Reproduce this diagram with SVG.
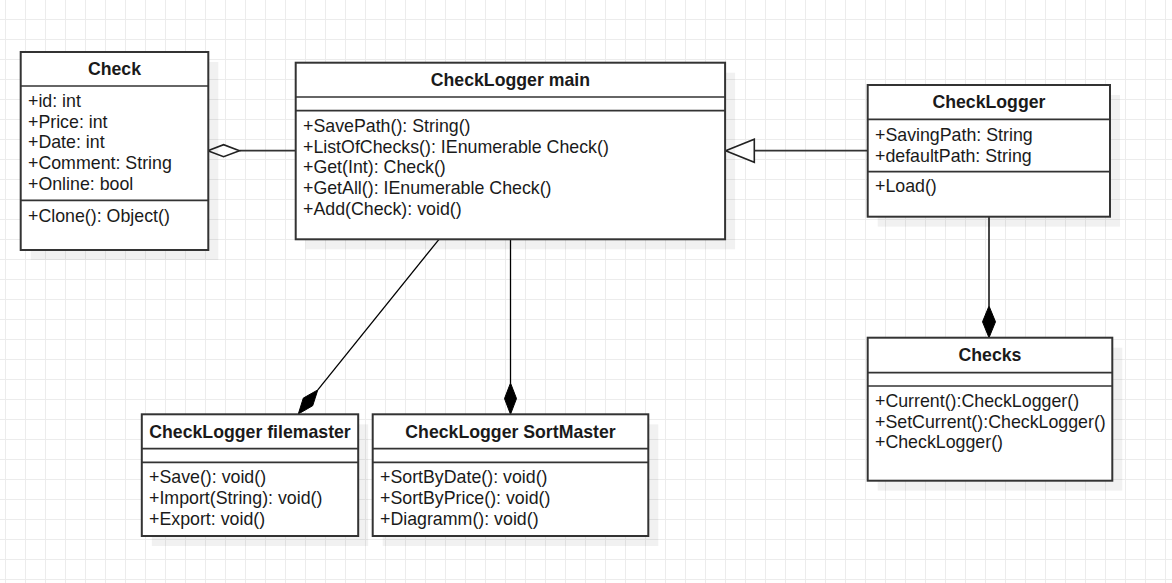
<svg xmlns="http://www.w3.org/2000/svg" width="1172" height="583" viewBox="0 0 1172 583">
  <defs>
    <pattern id="grid" x="5" y="19" width="20" height="20" patternUnits="userSpaceOnUse">
      <path d="M0.5 0 V20 M0 0.5 H20" fill="none" stroke="#ececec" stroke-width="1"/>
    </pattern>
    <style>
      .box { fill: #ffffff; stroke: #333333; stroke-width: 2; }
      .shadow { fill: #000000; opacity: 0.055; }
      .sep { stroke: #333333; stroke-width: 1.7; }
      .title { font-family: "Liberation Sans", Arial, sans-serif; font-size: 17.7px; font-weight: bold; fill: #1a1a1a; text-anchor: middle; }
      .item { font-family: "Liberation Sans", Arial, sans-serif; font-size: 17.8px; fill: #1a1a1a; }
      .conn { fill: none; stroke: #333333; stroke-width: 1.8; }
      .thin { fill: none; stroke: #000000; stroke-width: 1.3; }
      .hollow { fill: #ffffff; stroke: #222222; stroke-width: 1.6; }
      .filled { fill: #000000; stroke: #000000; stroke-width: 1; }
    </style>
  </defs>
  <rect x="0" y="0" width="1172" height="583" fill="#ffffff"/>
  <rect x="0" y="0" width="1172" height="583" fill="url(#grid)"/>

  <g id="connectors">
    <!-- Check <>— main (aggregation) -->
    <line class="conn" x1="239.5" y1="150.7" x2="295.7" y2="150.7"/>
    <polygon class="hollow" points="207.8,150.7 223.6,144.7 239.5,150.7 223.6,156.7"/>
    <!-- CheckLogger —|> main (generalization) -->
    <line class="conn" x1="754.3" y1="150.7" x2="867.7" y2="150.7"/>
    <polygon class="hollow" points="725.6,150.7 754.3,139.3 754.3,162.3"/>
    <!-- main — filemaster (composition) -->
    <line class="thin" x1="439" y1="239.3" x2="317.8" y2="389.9"/>
    <polygon class="filled" points="298.3,414 303.3,398.1 317.8,389.9 312.7,405.7"/>
    <!-- main — SortMaster (composition) -->
    <line class="thin" x1="510.5" y1="239.3" x2="510.5" y2="383"/>
    <polygon class="filled" points="510.5,383 516.5,398.6 510.5,414.3 504.5,398.6"/>
    <!-- CheckLogger — Checks (composition) -->
    <line class="conn" x1="989" y1="216.7" x2="989" y2="306"/>
    <polygon class="filled" points="989,306 995.5,321.8 989,337.7 982.5,321.8"/>
  </g>

  <g id="check">
    <rect class="shadow" x="30.7" y="62" width="187.6" height="198"/>
    <rect class="box" x="20.7" y="52" width="187.6" height="198"/>
    <line class="sep" x1="20.7" y1="86" x2="208.3" y2="86"/>
    <line class="sep" x1="20.7" y1="200.3" x2="208.3" y2="200.3"/>
    <text class="title" x="114.5" y="75.2">Check</text>
    <text class="item" x="28" y="106.8">+id: int</text>
    <text class="item" x="28" y="127.5">+Price: int</text>
    <text class="item" x="28" y="148.2">+Date: int</text>
    <text class="item" x="28" y="168.9">+Comment: String</text>
    <text class="item" x="28" y="189.6">+Online: bool</text>
    <text class="item" x="28" y="221.6">+Clone(): Object()</text>
  </g>

  <g id="checklogger-main">
    <rect class="shadow" x="305.7" y="72.7" width="429.4" height="176.6"/>
    <rect class="box" x="295.7" y="62.7" width="429.4" height="176.6"/>
    <line class="sep" x1="295.7" y1="97" x2="725.1" y2="97"/>
    <line class="sep" x1="295.7" y1="110.7" x2="725.1" y2="110.7"/>
    <text class="title" x="510.4" y="86.1">CheckLogger main</text>
    <text class="item" x="303" y="131.8">+SavePath(): String()</text>
    <text class="item" x="303" y="152.5">+ListOfChecks(): IEnumerable Check()</text>
    <text class="item" x="303" y="173.2">+Get(Int): Check()</text>
    <text class="item" x="303" y="193.9">+GetAll(): IEnumerable Check()</text>
    <text class="item" x="303" y="214.6">+Add(Check): void()</text>
  </g>

  <g id="checklogger">
    <rect class="shadow" x="877.7" y="95" width="242.3" height="131.7"/>
    <rect class="box" x="867.7" y="85" width="242.3" height="131.7"/>
    <line class="sep" x1="867.7" y1="119.3" x2="1110" y2="119.3"/>
    <line class="sep" x1="867.7" y1="171.7" x2="1110" y2="171.7"/>
    <text class="title" x="988.9" y="108.4">CheckLogger</text>
    <text class="item" x="875" y="141">+SavingPath: String</text>
    <text class="item" x="875" y="161.7">+defaultPath: String</text>
    <text class="item" x="875" y="192">+Load()</text>
  </g>

  <g id="checks">
    <rect class="shadow" x="877.7" y="347.7" width="244.6" height="143"/>
    <rect class="box" x="867.7" y="337.7" width="244.6" height="143"/>
    <line class="sep" x1="867.7" y1="372.7" x2="1112.3" y2="372.7"/>
    <line class="sep" x1="867.7" y1="386" x2="1112.3" y2="386"/>
    <text class="title" x="990" y="361.1">Checks</text>
    <text class="item" x="875" y="406.8">+Current():CheckLogger()</text>
    <text class="item" x="875" y="427.5">+SetCurrent():CheckLogger()</text>
    <text class="item" x="875" y="448.2">+CheckLogger()</text>
  </g>

  <g id="checklogger-filemaster">
    <rect class="shadow" x="151.8" y="424.3" width="216.4" height="121.7"/>
    <rect class="box" x="141.8" y="414.3" width="216.4" height="121.7"/>
    <line class="sep" x1="141.8" y1="448.7" x2="358.2" y2="448.7"/>
    <line class="sep" x1="141.8" y1="462.3" x2="358.2" y2="462.3"/>
    <text class="title" x="250" y="437.7">CheckLogger filemaster</text>
    <text class="item" x="149" y="483.3">+Save(): void()</text>
    <text class="item" x="149" y="504">+Import(String): void()</text>
    <text class="item" x="149" y="524.7">+Export: void()</text>
  </g>

  <g id="checklogger-sortmaster">
    <rect class="shadow" x="382.7" y="424.3" width="275.6" height="121.7"/>
    <rect class="box" x="372.7" y="414.3" width="275.6" height="121.7"/>
    <line class="sep" x1="372.7" y1="448.7" x2="648.3" y2="448.7"/>
    <line class="sep" x1="372.7" y1="462.3" x2="648.3" y2="462.3"/>
    <text class="title" x="510.5" y="437.7">CheckLogger SortMaster</text>
    <text class="item" x="380" y="483.3">+SortByDate(): void()</text>
    <text class="item" x="380" y="504">+SortByPrice(): void()</text>
    <text class="item" x="380" y="524.7">+Diagramm(): void()</text>
  </g>
</svg>
